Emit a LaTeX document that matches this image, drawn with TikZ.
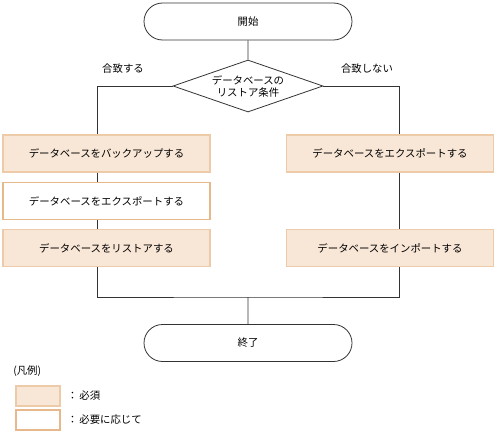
\documentclass[tikz,border=0pt]{standalone}
\usepackage{fontspec}
\setmainfont{Noto Sans CJK JP}
\usetikzlibrary{positioning, calc, shapes.geometric, shapes.misc}
\definecolor{mustfill}{HTML}{F8E6D6}
\definecolor{mustline}{HTML}{EDCBA8}
\definecolor{optline}{HTML}{E6B88C}
\definecolor{flowline}{HTML}{333333}
\tikzset{
  term/.style={rounded rectangle, draw=flowline, line width=0.6pt, minimum width=156pt, minimum height=27.75pt, inner sep=0pt, font=\fontsize{7.8pt}{9pt}\selectfont},
  cond/.style={diamond, draw=flowline, line width=0.6pt, minimum width=112.5pt, minimum height=39pt, inner sep=0pt},
  must/.style={draw=mustline, fill=mustfill, line width=0.8pt, minimum width=155.25pt, minimum height=27.75pt, inner sep=0pt, font=\fontsize{7.8pt}{9pt}\selectfont},
  opt/.style={must, draw=optline, fill=white},
  flow/.style={draw=flowline, line width=0.6pt},
  blab/.style={font=\fontsize{7.8pt}{9pt}\selectfont, inner sep=0pt}
}

\begin{document}
\begin{tikzpicture}[x=0.75pt, y=-0.75pt]
		\useasboundingbox (0,0) rectangle (496,432);
		% flow
		\node[term] (start) at (248,21.5) {開始};
		\node[cond] (dia) at (248,86) {};
		\node[blab, align=center, font=\fontsize{7.8pt}{9pt}\selectfont] (diat) at (dia) {データベースの\\リストア条件};
		\node[must] (lb1) at (106.5,153.5) {データベースをバックアップする};
		\node[opt] (lb2) at (106.5,201) {データベースをエクスポートする};
		\node[must] (lb3) at (106.5,248) {データベースをリストアする};
		\node[must] (rb1) at (390,153.5) {データベースをエクスポートする};
		\node[must] (rb2) at (390,248) {データベースをインポートする};
		\node[term] (stop) at (248,343) {終了};
		\node[blab] (yes) at (123,69) {合致する};
		\node[blab] (no) at (367,69) {合致しない};
		\coordinate (lx) at (97,0);
		\coordinate (rx) at (399,0);
		\coordinate (join) at (248,297);
		\draw[flow] (start) -- (dia);
		\draw[flow] (dia.west) -| (lx |- lb1.north);
		\draw[flow] (dia.east) -| (rx |- rb1.north);
		\draw[flow] (lx |- lb1.south) -- (lx |- lb2.north);
		\draw[flow] (lx |- lb2.south) -- (lx |- lb3.north);
		\draw[flow] (rx |- rb1.south) -- (rx |- rb2.north);
		\draw[flow] (lx |- lb3.south) |- (join) -| (rx |- rb2.south);
		\draw[flow] (join) -- (stop);
		% legend
		\node[blab, anchor=west] (key) at (13,371) {(凡例)};
		\node[must, minimum width=33pt, minimum height=15pt] (kmust) at (38,396) {};
		\node[opt, minimum width=33pt, minimum height=15pt] (kopt) at (38,420) {};
		\node[blab, anchor=west] (kmustt) at (67,396) {：\,必須};
		\node[blab, anchor=west] (koptt) at (67,420) {：\,必要に応じて};
	\end{tikzpicture}
\end{document}
